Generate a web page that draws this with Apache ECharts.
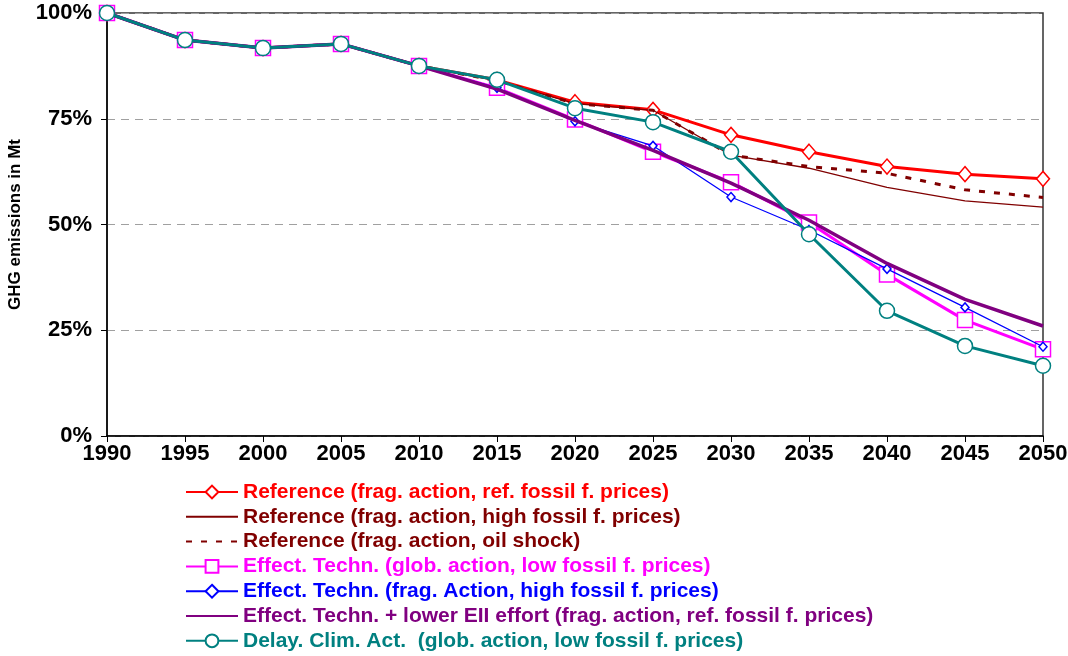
<!DOCTYPE html>
<html>
<head>
<meta charset="utf-8">
<script src="https://cdn.jsdelivr.net/npm/echarts@6/dist/echarts.min.js"></script>
<style>
  html, body { margin: 0; padding: 0; background: #fff; }
  #chart { width: 1068px; height: 656px; }
</style>
</head>
<body>
<div id="chart"></div>
<script>
// years on the x axis
var years = [1990, 1995, 2000, 2005, 2010, 2015, 2020, 2025, 2030, 2035, 2040, 2045, 2050];

// GHG emissions relative to 1990 (%)
var refFragRef   = [100, 93.6, 91.7, 92.7, 87.5, 84.2, 78.9, 77.1, 71.2, 67.2, 63.7, 61.9, 60.8];
var refFragHigh  = [100, 93.6, 91.7, 92.7, 87.5, 84.0, 78.6, 77.0, 66.4, 63.3, 58.8, 55.6, 54.1];
var refOilShock  = [100, 93.6, 91.7, 92.7, 87.5, 84.0, 78.6, 77.0, 66.4, 63.7, 62.1, 58.2, 56.4];
var effGlobLow   = [100, 93.6, 91.7, 92.7, 87.5, 82.3, 74.8, 67.2, 60.0, 50.5, 38.2, 27.4, 20.5];
var effFragHigh  = [100, 93.6, 91.7, 92.7, 87.5, 82.3, 74.4, 68.6, 56.5, 48.7, 39.5, 30.4, 21.1];
var effLowerEII  = [100, 93.6, 91.7, 92.7, 87.5, 82.0, 74.6, 67.5, 59.8, 51.0, 40.8, 32.3, 26.0];
var delayClim    = [100, 93.6, 91.7, 92.7, 87.5, 84.2, 77.5, 74.2, 67.2, 47.7, 29.6, 21.3, 16.6];

var yTicks = [0, 25, 50, 75, 100];

var seriesNames = [
  'Reference (frag. action, ref. fossil f. prices)',
  'Reference (frag. action, high fossil f. prices)',
  'Reference (frag. action, oil shock)',
  'Effect. Techn. (glob. action, low fossil f. prices)',
  'Effect. Techn. (frag. Action, high fossil f. prices)',
  'Effect. Techn. + lower EII effort (frag. action, ref. fossil f. prices)',
  'Delay. Clim. Act.  (glob. action, low fossil f. prices)'
];
var seriesColors = ['#FF0000', '#800000', '#800000', '#FF00FF', '#0000FF', '#800080', '#008080'];
var hasMarker = [true, false, false, true, true, false, true];

function pairs(values) {
  return years.map(function (y, i) { return [y, values[i]]; });
}

var FONT = '"Liberation Sans", Arial, sans-serif';

function makeSeries(idx, values, opts) {
  return {
    name: seriesNames[idx],
    type: 'line',
    data: pairs(values),
    color: seriesColors[idx],
    symbol: opts.symbol || 'none',
    symbolSize: opts.symbolSize || 0,
    showSymbol: !!opts.symbol,
    lineStyle: { color: seriesColors[idx], width: opts.width, type: opts.type || 'solid' },
    itemStyle: { color: '#fff', borderColor: seriesColors[idx], borderWidth: opts.borderWidth || 1.5 },
    animation: false,
    z: 2 + idx
  };
}

var chart = echarts.init(document.getElementById('chart'));

chart.setOption({
  backgroundColor: '#fff',
  animation: false,
  grid: {
    left: 107, right: 25, top: 13, bottom: 220,
    outerBoundsMode: 'none',
    containLabel: false,
    show: true, borderColor: '#333', borderWidth: 1.5, backgroundColor: 'transparent'
  },
  xAxis: {
    type: 'value',
    min: 1990, max: 2050, interval: 5,
    axisLine: { show: true, lineStyle: { color: '#000', width: 1.5 } },
    axisTick: { show: true, length: 6, lineStyle: { color: '#000' } },
    axisLabel: {
      color: '#000', fontFamily: FONT, fontWeight: 'bold', fontSize: 22, margin: 7,
      formatter: function (v) { return String(v); }
    },
    splitLine: { show: false }
  },
  yAxis: {
    type: 'value',
    min: yTicks[0], max: yTicks[yTicks.length - 1], interval: 25,
    name: 'GHG emissions in Mt',
    nameLocation: 'middle',
    nameGap: 83,
    nameRotate: 90,
    nameTextStyle: { color: '#000', fontFamily: FONT, fontWeight: 'bold', fontSize: 17 },
    axisLine: { show: true, lineStyle: { color: '#000', width: 1.5 } },
    axisTick: { show: true, length: 6, lineStyle: { color: '#000' } },
    axisLabel: {
      color: '#000', fontFamily: FONT, fontWeight: 'bold', fontSize: 22, margin: 15,
      formatter: function (v) { return v + '%'; }
    },
    splitLine: {
      show: true,
      lineStyle: { color: '#a0a0a0', type: [8, 6], width: 1 }
    }
  },
  legend: {
    orient: 'vertical',
    left: 185, top: 481, padding: 0,
    itemWidth: 52, itemHeight: 16, itemGap: 2.8,
    textStyle: { fontFamily: FONT, fontWeight: 'bold', fontSize: 21, lineHeight: 22 },
    data: seriesNames.map(function (n, i) {
      var item = { name: n, textStyle: { color: seriesColors[i] } };
      if (!hasMarker[i]) item.itemStyle = { opacity: 0 };
      return item;
    })
  },
  series: [
    makeSeries(0, refFragRef, { symbol: 'diamond', symbolSize: [13, 15], width: 3 }),
    makeSeries(1, refFragHigh, { width: 1.3 }),
    makeSeries(2, refOilShock, { width: 3, type: [6, 9] }),
    makeSeries(3, effGlobLow, { symbol: 'rect', symbolSize: 15, width: 3 }),
    makeSeries(4, effFragHigh, { symbol: 'diamond', symbolSize: [8, 9], width: 1.3 }),
    makeSeries(5, effLowerEII, { width: 3.5 }),
    makeSeries(6, delayClim, { symbol: 'circle', symbolSize: 15, width: 3 })
  ]
});
</script>
</body>
</html>
